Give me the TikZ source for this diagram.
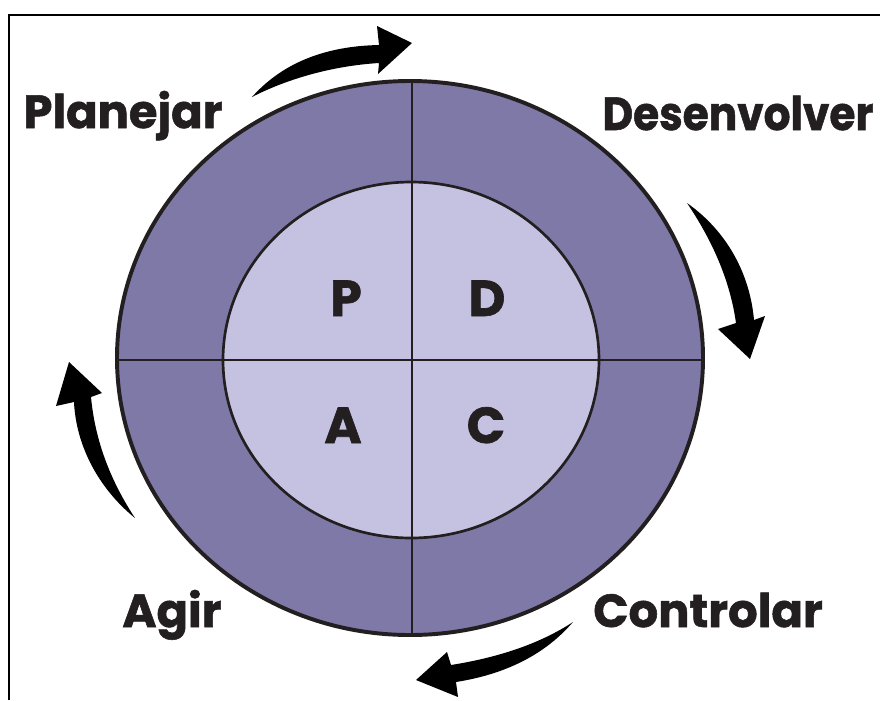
\documentclass[tikz,border=0pt]{standalone}
\usepackage{fontspec}
\newfontfamily\lblfont{Poppins}[BoldFeatures={FakeBold=1.2}]
\usetikzlibrary{positioning}

\definecolor{ringpurple}{RGB}{127,121,168}
\definecolor{corelilac}{RGB}{197,194,225}
\definecolor{inkdark}{RGB}{35,31,32}

\tikzset{
  ringlabel/.style={font=\lblfont\bfseries\fontsize{33}{33}\selectfont, anchor=base, inner sep=0pt, text=inkdark},
  pdcaletter/.style={font=\lblfont\bfseries\fontsize{36}{36}\selectfont, anchor=base, inner sep=0pt, text=inkdark},
  turnarrow/.style={fill=black}
}

\begin{document}
\begin{tikzpicture}[x=0.025cm, y=-0.025cm]
  \useasboundingbox (0,0) rectangle (880,700);
  \fill[white] (0,0) rectangle (880,700);
  \draw[line width=1.3pt] (9,700) -- (9,15) -- (880,15); % frame, cut on two sides

  % rings
  \fill[ringpurple] (410,358) ellipse [x radius=293, y radius=277];
  \fill[corelilac] (411,360) ellipse [x radius=188, y radius=178];
  \draw[inkdark, line width=1.2pt] (412,82) -- (412,635);
  \draw[inkdark, line width=1.2pt] (117,360) -- (703,360);
  \draw[inkdark, line width=1.9pt] (411,360) ellipse [x radius=188, y radius=178];
  \draw[inkdark, line width=2.8pt] (410,358) ellipse [x radius=293, y radius=277];

  % letters
  \node[pdcaletter] (p) at (346,316) {P};
  \node[pdcaletter] (d) at (487,316) {D};
  \node[pdcaletter] (a) at (343,443) {A};
  \node[pdcaletter] (c) at (486,443) {C};

  % stage names
  \node[ringlabel] (plan) at (123,128) {Planejar};
  \node[ringlabel] (dev) at (738,130) {\scalebox{0.91}[1]{Desenvolver}};
  \node[ringlabel] (act) at (172,627) {Agir};
  \node[ringlabel] (ctrl) at (708,627) {Controlar};

  % turning arrows
  \fill[turnarrow] (252,97) .. controls (285,60) and (330,46) .. (379,45) -- (377,26) -- (412,43) -- (378,74) -- (379,63) .. controls (330,66) and (285,80) .. (252,97) -- cycle;
  \fill[turnarrow] (687,203) .. controls (728,232) and (750,275) .. (754,320) -- (765,316) -- (750,359) -- (718,329) -- (736,323) .. controls (730,280) and (712,240) .. (687,203) -- cycle;
  \fill[turnarrow] (573,622) .. controls (542,658) and (500,675) .. (456,682) -- (458,697) -- (416,680) -- (447,652) -- (451,665) .. controls (495,658) and (538,645) .. (573,622) -- cycle;
  \fill[turnarrow] (135,518) .. controls (98,488) and (76,445) .. (74,402) -- (56,406) -- (69,362) -- (102,393) -- (91,397) .. controls (95,440) and (110,480) .. (135,518) -- cycle;
\end{tikzpicture}
\end{document}
